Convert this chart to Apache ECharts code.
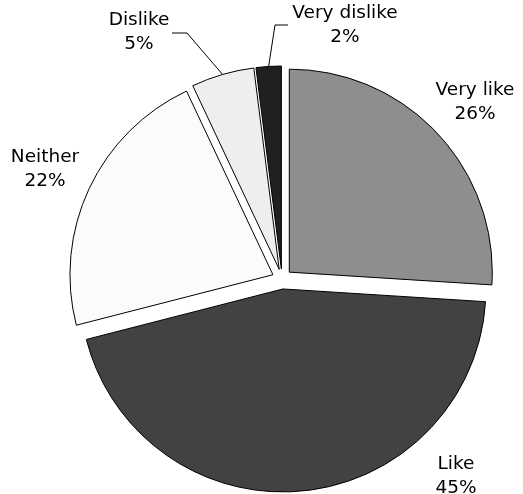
<!DOCTYPE html>
<html>
<head>
<meta charset="utf-8">
<script src="https://cdn.jsdelivr.net/npm/echarts@6/dist/echarts.min.js"></script>
<style>
  html, body { margin: 0; padding: 0; background: #ffffff; }
  #chart { width: 523px; height: 494px; }
</style>
</head>
<body>
<div id="chart"></div>
<script>
// Survey answers, in clockwise order from 12 o'clock
const categories = ['Very like', 'Like', 'Neither', 'Dislike', 'Very dislike'];
const percents = [26, 45, 22, 5, 2];

// Slice fills, one per answer
const fills = ['#8e8e8e', '#424242', '#fbfbfb', '#eeeeee', '#202020'];

// Pie geometry
const pieCenter = [282, 279];
const pieRadius = 203;
const explode = 10;

// Where each label block sits; the two thin slices get an elbow leader line
const labelSpots = {
  'Very like':    { x: 475, y: 102 },
  'Like':         { x: 456, y: 476 },
  'Neither':      { x: 45,  y: 169 },
  'Dislike':      { x: 139, y: 32, bend: [187, 33], end: [172, 33] },
  'Very dislike': { x: 345, y: 25, bend: [275, 25], end: [288, 25] }
};

const labelFont = '18.5px "DejaVu Sans"';

// Outer edge midpoint of each exploded slice, from the slice's share of the circle
const total = percents.reduce((a, b) => a + b, 0);
function sliceTip(index) {
  let before = 0;
  for (let i = 0; i < index; i++) before += percents[i];
  const mid = (before + percents[index] / 2) / total * Math.PI * 2;
  const ux = Math.sin(mid), uy = -Math.cos(mid);
  return [
    pieCenter[0] + ux * (explode + pieRadius),
    pieCenter[1] + uy * (explode + pieRadius)
  ];
}

const labelGraphics = [];
categories.forEach((name, i) => {
  const spot = labelSpots[name];
  labelGraphics.push({
    type: 'text',
    x: spot.x,
    y: spot.y,
    silent: true,
    style: {
      text: name + '\n' + percents[i] + '%',
      font: labelFont,
      lineHeight: 24,
      fill: '#000000',
      align: 'center',
      verticalAlign: 'middle'
    }
  });
  if (spot.bend) {
    labelGraphics.push({
      type: 'polyline',
      silent: true,
      shape: { points: [sliceTip(i), spot.bend, spot.end] },
      style: { stroke: '#000000', lineWidth: 1, fill: null }
    });
  }
});

const chart = echarts.init(document.getElementById('chart'), null, { renderer: 'canvas' });

chart.setOption({
  animation: false,
  backgroundColor: '#ffffff',
  series: [{
    type: 'pie',
    center: pieCenter,
    radius: pieRadius,
    startAngle: 90,
    clockwise: true,
    selectedMode: 'multiple',
    selectedOffset: explode,
    emphasis: { disabled: true },
    itemStyle: { borderColor: '#000000', borderWidth: 1 },
    label: { show: false },
    labelLine: { show: false },
    data: categories.map((name, i) => ({
      name: name,
      value: percents[i],
      selected: true,
      itemStyle: { color: fills[i] }
    }))
  }],
  graphic: labelGraphics
});
</script>
</body>
</html>
